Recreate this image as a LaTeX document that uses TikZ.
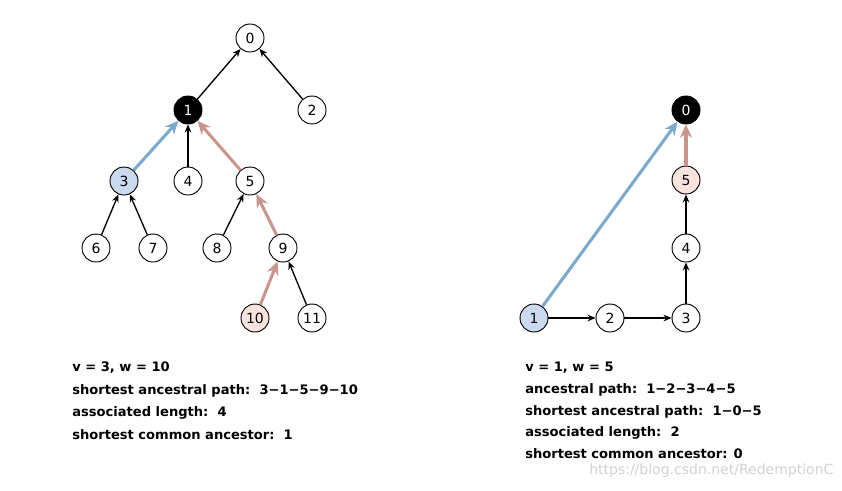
\documentclass[tikz,border=0pt]{standalone}
\usepackage{fontspec}
\setmainfont{DejaVu Sans}
\usetikzlibrary{arrows.meta}
\definecolor{bluefill}{RGB}{203,218,238}
\definecolor{pinkfill}{RGB}{250,226,222}
\definecolor{blueedge}{RGB}{122,170,205}
\definecolor{pinkedge}{RGB}{202,150,140}
\tikzset{
  vtx/.style={circle,draw=black,line width=0.7pt,fill=white,minimum size=21pt,inner sep=0pt,font=\fontsize{10.5}{12}\selectfont},
  blk/.style={vtx,fill=black,text=white},
  bl/.style={vtx,fill=bluefill},
  pk/.style={vtx,fill=pinkfill},
  edge/.style={-{Stealth[length=6pt,width=5pt]},line width=1pt},
  bedge/.style={-{Stealth[length=10pt,width=9pt]},line width=2.3pt,draw=blueedge},
  pedge/.style={-{Stealth[length=10pt,width=9pt]},line width=2.3pt,draw=pinkedge},
  info/.style={anchor=west,font=\bfseries\fontsize{9.8}{11}\selectfont,inner sep=0pt}
}
\begin{document}
\begin{tikzpicture}[x=0.75pt,y=-0.75pt]
\useasboundingbox (0,0) rectangle (842,490);
% left tree
\node[vtx] (a0) at (250,38) {0};
\node[blk] (a1) at (188,110) {1};
\node[vtx] (a2) at (312,110) {2};
\node[bl] (a3) at (124,181) {3};
\node[vtx] (a4) at (188,181) {4};
\node[vtx] (a5) at (250,181) {5};
\node[vtx] (a6) at (96,248) {6};
\node[vtx] (a7) at (153,248) {7};
\node[vtx] (a8) at (217,248) {8};
\node[vtx] (a9) at (283,248) {9};
\node[pk] (a10) at (255,318) {10};
\node[vtx] (a11) at (312,318) {11};
\draw[edge] (a1) -- (a0);
\draw[edge] (a2) -- (a0);
\draw[bedge] (a3) -- (a1);
\draw[edge] (a4) -- (a1);
\draw[pedge] (a5) -- (a1);
\draw[edge] (a6) -- (a3);
\draw[edge] (a7) -- (a3);
\draw[edge] (a8) -- (a5);
\draw[pedge] (a9) -- (a5);
\draw[pedge] (a10) -- (a9);
\draw[edge] (a11) -- (a9);
% right graph
\node[blk] (b0) at (686,110) {0};
\node[pk] (b5) at (686,180) {5};
\node[vtx] (b4) at (686,248) {4};
\node[vtx] (b3) at (686,318) {3};
\node[vtx] (b2) at (610,318) {2};
\node[bl] (b1) at (534,318) {1};
\draw[edge] (b1) -- (b2);
\draw[edge] (b2) -- (b3);
\draw[edge] (b3) -- (b4);
\draw[edge] (b4) -- (b5);
\draw[pedge] (b5) -- (b0);
\draw[bedge] (b1) -- (b0);
% text left
\node[info] (t1) at (72,368) {v = 3, w = 10};
\node[info] (t2) at (72,391) {shortest ancestral path:\ \ 3−1−5−9−10};
\node[info] (t3) at (72,413) {associated length:\ \ 4};
\node[info] (t4) at (72,435) {shortest common ancestor:\ \ 1};
% text right
\node[info] (r1) at (525,368) {v = 1, w = 5};
\node[info] (r2) at (525,390) {ancestral path:\ \ 1−2−3−4−5};
\node[info] (r3) at (525,412) {shortest ancestral path:\ \ 1−0−5};
\node[info] (r4) at (525,433) {associated length:\ \ 2};
\node[info] (r5) at (525,454) {shortest common ancestor: 0};
\node[anchor=west,inner sep=0pt,text=black!18,font=\fontsize{10.5}{12}\selectfont] (wm) at (589,471) {https://blog.csdn.net/RedemptionC};
\end{tikzpicture}
\end{document}
